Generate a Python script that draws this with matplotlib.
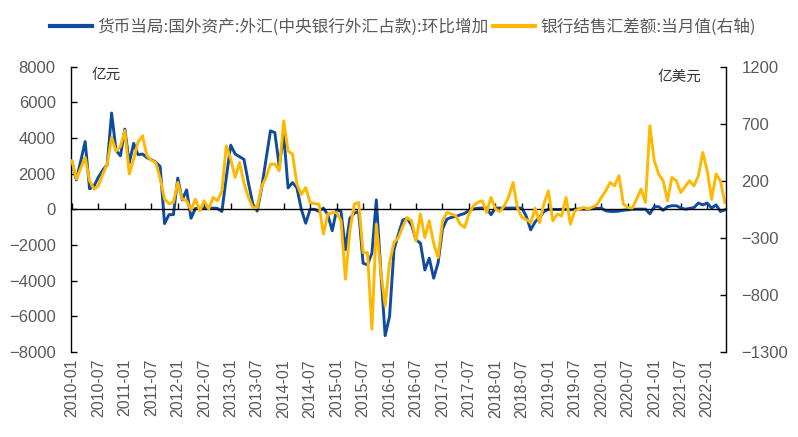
import pandas as pd
import matplotlib
matplotlib.use('Agg')
import matplotlib.pyplot as plt

plt.rcParams['font.family'] = ['Liberation Sans', 'Noto Sans CJK SC']

# Months 2010-01 .. 2022-05
months = pd.period_range('2010-01', '2022-05', freq='M')

# 货币当局:国外资产:外汇(中央银行外汇占款):环比增加, 亿元 (left axis)
fx_pboc = [
    2680, 1650, 2700, 3800, 1150, 1300, 1800, 2200, 2500, 5400,
    3300, 3000, 4500, 2600, 3700, 3060, 3100, 2900, 2780, 2650,
    2400, -800, -300, -300, 1750, 530, 1090, -500, 50, 70,
    70, 60, 70, 50, -120, 1800, 3600, 3100, 2950, 2800,
    1500, 300, -100, 1200, 2800, 4400, 4300, 2400, 4200, 1200,
    1500, 1200, 0, -780, 0, 0, -120, 70, -300, -1200,
    -30, -120, -2270, -500, -215, -120, -3020, -3115, -2460, 530,
    -3400, -7082, -6000, -2280, -1400, -600, -500, -900, -1710, -1900,
    -3400, -2740, -3860, -3000, -1100, -550, -450, -400, -310, -230,
    -60, 20, 60, 70, 70, -300, 70, 70, 70, 70,
    70, 70, 70, -400, -1150, -700, -450, -120, 0, 0,
    -10, 0, 0, -30, 10, 10, 10, 10, 30, 50,
    70, -80, -120, -120, -100, -50, -30, 0, 10, 10,
    10, -250, 150, 150, -60, 150, 200, 200, 80, 10,
    50, 100, 350, 250, 350, 70, 250, -120, -30,
]

# 银行结售汇差额:当月值, 亿美元 (right axis)
bank_fx = [
    376, 215, 310, 404, 200, 127, 156, 259, 346, 580,
    460, 500, 640, 260, 390, 540, 595, 420, 380, 360,
    220, 40, 0, 10, 185, 40, 25, -55, 40, -63,
    25, -48, 54, 25, 112, 507, 390, 229, 360, 180,
    54, -34, -34, 150, 229, 346, 346, 288, 726, 460,
    434, 171, 80, 141, 10, 0, -4, -267, -92, -80,
    -78, -151, -662, -239, -4, 10, -429, -429, -1100, -180,
    -589, -896, -516, -341, -297, -200, -122, -151, -326, -92,
    -297, -151, -350, -473, -150, -78, -90, -107, -180, -209,
    -92, -19, 10, 25, -78, 54, -48, -70, -20, 60,
    185, -40, -120, -140, -166, -40, -166, 0, 112, -151,
    -92, -107, 54, -180, -63, -48, -34, -48, -30, -10,
    54, 112, 185, 156, 244, -4, -34, -39, 39, 127,
    10, 682, 375, 259, 200, 25, 229, 200, 97, 150,
    200, 156, 244, 448, 288, 39, 259, 200, 10,
]

label_pboc = '货币当局:国外资产:外汇(中央银行外汇占款):环比增加'
label_bank = '银行结售汇差额:当月值(右轴)'

blue = '#0f4c9e'
yellow = '#ffb800'
grey = '#595959'

x = list(range(len(months)))

fig = plt.figure(figsize=(7.98, 4.37), dpi=100)
ax = fig.add_axes([0.089, 0.1945, 0.821, 0.653])
ax2 = ax.twinx()

l1, = ax.plot(x, fx_pboc, color=blue, lw=2.1, solid_joinstyle='round', label=label_pboc)
l2, = ax2.plot(x, bank_fx, color=yellow, lw=2.1, solid_joinstyle='round', label=label_bank)

ax.set_xlim(-0.2, 148.3)
ax.set_ylim(-8000, 8000)
ax.set_yticks(range(-8000, 8001, 2000))
ax2.set_ylim(-1300, 1200)
ax2.set_yticks([-1300, -800, -300, 200, 700, 1200])

# x axis line at zero with ticks pointing up, labels at the bottom
ax.spines['bottom'].set_position(('data', 0))
ax.spines['top'].set_visible(False)
ax.spines['right'].set_visible(False)
ax2.spines['top'].set_visible(False)
ax2.spines['bottom'].set_visible(False)
ax2.spines['left'].set_visible(False)
for s in ['left', 'bottom']:
    ax.spines[s].set_linewidth(1.0)
    ax.spines[s].set_color('black')
ax2.spines['right'].set_linewidth(1.0)

tick_pos = x[::6]
tick_lab = [str(m) for m in months[::6]]
ax.set_xticks(tick_pos)
ax.tick_params(axis='x', direction='in', length=4, width=1, labelbottom=False)
ax.tick_params(axis='y', direction='in', length=4, width=1, pad=11,
               labelsize=12, labelcolor=grey)
ax2.tick_params(axis='y', direction='in', length=4, width=1, pad=11,
                labelsize=12, labelcolor=grey)

sec = ax.secondary_xaxis(0.0)
sec.set_xticks(tick_pos)
sec.set_xticklabels(tick_lab, rotation=90, fontsize=11.5, color=grey)
sec.tick_params(length=0, pad=5)
sec.spines['bottom'].set_visible(False)

ax.text(0.032, 0.995, '亿元', transform=ax.transAxes, fontsize=10.5,
        color='#333333', family=['Noto Sans CJK SC'], va='top', ha='left')
ax2.text(0.962, 0.99, '亿美元', transform=ax2.transAxes, fontsize=10.5,
         color='#333333', family=['Noto Sans CJK SC'], va='top', ha='right')

leg = fig.legend(handles=[l1, l2], loc='center', bbox_to_anchor=(0.505, 0.938),
                 ncol=2, frameon=False, handlelength=2.5, handletextpad=0.3,
                 columnspacing=0.3, prop={'family': ['Noto Sans CJK SC'], 'size': 12})
for t in leg.get_texts():
    t.set_color(grey)
for h in leg.get_lines():
    h.set_linewidth(3)

fig.savefig('out.png', dpi=100)
